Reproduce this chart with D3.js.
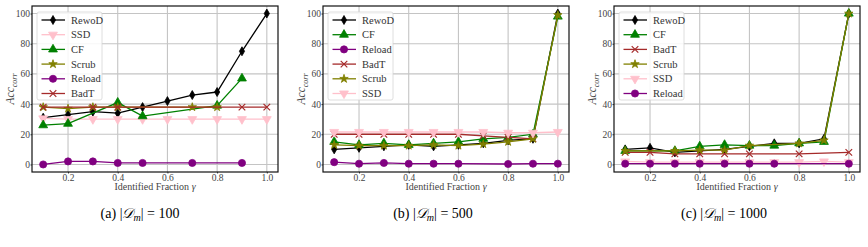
<!DOCTYPE html>
<html>
<head>
<meta charset="utf-8">
<script src="https://cdn.jsdelivr.net/npm/d3@7"></script>
<style>
  body { margin: 0; background: #fff; }
  svg { display: block; }
  svg text { font-family: "Liberation Serif", "DejaVu Serif", serif; }
</style>
</head>
<body>
<div id="chart"></div>
<script>
// identified fraction gamma (x values, shared by all panels)
const gamma = [0.1, 0.2, 0.3, 0.4, 0.5, 0.6, 0.7, 0.8, 0.9, 1.0];
const xTicks = [0.2, 0.4, 0.6, 0.8, 1.0];
const yTicks = [0, 20, 40, 60, 80, 100];

// panel (a) |D_m| = 100   (null = no point)
const aRewoD  = [31, 33, 35, 34, 38, 42, 46, 48, 75, 100];
const aSSD    = [30.5, 30, 30, 30, 30, 30, 30, 30, 30, 30];
const aCF     = [26, 27, null, 41, 32, null, null, 39, 57, null];
const aScrub  = [38, 37, 38, 38, null, null, 38, 38, null, null];
const aReload = [0, 2, 2, 1, 1, null, 1, null, 1, null];
const aBadT   = [38, null, 38, 38, null, null, null, null, 38, 38];

// panel (b) |D_m| = 500
const bRewoD  = [10, 11, 12, 13, 12, 13, 14, 16, 17, 100];
const bCF     = [15, 13, 14, 13, 14, 15, 17, 18, 20, 98];
const bReload = [1.5, 0.5, 1, 0.5, 0.5, 0.5, null, 0.3, 0.5, 0.5];
const bBadT   = [20, 20, 20, 20, 20, 20, 19, 18, 17, null];
const bScrub  = [13, 12.5, 12.5, 12.5, 13, 12.5, 13.5, 15, 17, 99];
const bSSD    = [21.5, 21.5, 21.5, 21.5, 21.5, 21.5, 21.5, 21, 21, 21.5];

// panel (c) |D_m| = 1000
const cRewoD  = [10, 11, 8, 9, 10, 12, 14, 14, 17, 100];
const cCF     = [9, null, 9, 12, 13, 12.5, 12.5, 14, 15, 100];
const cBadT   = [8, 8, 7, 7, 7, 7, null, 7, null, 8];
const cScrub  = [9, null, 9, 9.5, 9.5, 12.5, null, 14, 16, 100];
const cSSD    = [2, 1.5, 1.5, 1.5, 1.5, 1.5, 1.5, 1.5, 2, 1.5];
const cReload = [0.5, 0.5, 0.5, 0.5, 0.5, 0.5, 0.5, null, null, 0.5];

const captions = ["(a)", "(b)", "(c)"];
const sizes = ["100", "500", "1000"];

const SERIF = "'Liberation Serif', 'DejaVu Serif', serif";

// method look
const styles = {
  RewoD:  { color: "#000000", marker: "diamond" },
  SSD:    { color: "#ffc0cb", marker: "tridown" },
  CF:     { color: "#008000", marker: "triup" },
  Scrub:  { color: "#808000", marker: "star" },
  Reload: { color: "#800080", marker: "circle" },
  BadT:   { color: "#a52a2a", marker: "x" }
};

const panels = [
  { left: 32,  series: [["RewoD", aRewoD], ["SSD", aSSD], ["CF", aCF], ["Scrub", aScrub], ["Reload", aReload], ["BadT", aBadT]] },
  { left: 323, series: [["RewoD", bRewoD], ["CF", bCF], ["Reload", bReload], ["BadT", bBadT], ["Scrub", bScrub], ["SSD", bSSD]] },
  { left: 614, series: [["RewoD", cRewoD], ["CF", cCF], ["BadT", cBadT], ["Scrub", cScrub], ["SSD", cSSD], ["Reload", cReload]] }
];

const W = 868, H = 247;
const plotW = 246, plotTop = 6, plotH = 166;

const svg = d3.select("#chart").append("svg")
  .attr("width", W).attr("height", H);

function markerPath(kind) {
  if (kind === "diamond") return "M0,-4.5L2.6,0L0,4.5L-2.6,0Z";
  if (kind === "triup") return d3.symbol(d3.symbolTriangle, 34)();
  if (kind === "tridown") return d3.symbol(d3.symbolTriangle, 34)();
  if (kind === "star") return d3.symbol(d3.symbolStar, 22)();
  if (kind === "circle") return d3.symbol(d3.symbolCircle, 40)();
  if (kind === "x") return "M-3.3,-3.3L3.3,3.3M-3.3,3.3L3.3,-3.3";
}

panels.forEach((p, i) => {
  const g = svg.append("g").attr("transform", `translate(${p.left},${plotTop})`);

  const x = d3.scaleLinear().domain([0.055, 1.045]).range([0, plotW]);
  const y = d3.scaleLinear().domain([-5, 105]).range([plotH, 0]);

  // grid
  g.append("g").selectAll("line").data(xTicks).join("line")
    .attr("x1", d => x(d)).attr("x2", d => x(d))
    .attr("y1", 0).attr("y2", plotH)
    .attr("stroke", "#c4c4c4").attr("stroke-width", 1.1);
  g.append("g").selectAll("line").data(yTicks).join("line")
    .attr("x1", 0).attr("x2", plotW)
    .attr("y1", d => y(d)).attr("y2", d => y(d))
    .attr("stroke", "#c4c4c4").attr("stroke-width", 1.1);

  // axes
  const xAxis = g.append("g").attr("transform", `translate(0,${plotH})`)
    .call(d3.axisBottom(x).tickValues(xTicks).tickFormat(d3.format(".1f")).tickSize(1.5).tickPadding(0.5));
  const yAxis = g.append("g")
    .call(d3.axisLeft(y).tickValues(yTicks).tickSize(1.5).tickPadding(0.5));
  [xAxis, yAxis].forEach(a => {
    a.attr("font-family", SERIF);
    a.select(".domain").remove();
    a.selectAll("line").attr("stroke", "#444");
    a.selectAll("text").attr("fill", "#444").attr("font-family", SERIF).style("font-size", "9.5px");
  });

  // series
  const line = d3.line()
    .x(d => x(d[0])).y(d => y(d[1]));
  p.series.forEach(([name, vals]) => {
    const st = styles[name];
    const kept = gamma.map((gm, k) => [gm, vals[k]]).filter(d => d[1] !== null);
    g.append("path").datum(kept)
      .attr("d", line)
      .attr("fill", "none").attr("stroke", st.color).attr("stroke-width", 1.3);
    g.append("g").selectAll("path").data(kept).join("path")
      .attr("d", markerPath(st.marker))
      .attr("transform", d => `translate(${x(d[0])},${y(d[1])})` + (st.marker === "tridown" ? " rotate(180)" : ""))
      .attr("fill", st.marker === "x" ? "none" : st.color)
      .attr("stroke", st.color)
      .attr("stroke-width", st.marker === "x" ? 1.2 : 0.8);
  });

  // frame
  g.append("rect").attr("width", plotW).attr("height", plotH)
    .attr("fill", "none").attr("stroke", "#111").attr("stroke-width", 1.2);

  // legend
  const lg = g.append("g").attr("transform", "translate(5,6)");
  lg.append("rect").attr("width", 65).attr("height", 88).attr("rx", 2)
    .attr("fill", "#fff").attr("fill-opacity", 0.85)
    .attr("stroke", "#d6d6d6").attr("stroke-width", 0.8);
  p.series.forEach(([name], k) => {
    const st = styles[name];
    const ly = 8 + k * 14.7;
    lg.append("line").attr("x1", 4.5).attr("x2", 28).attr("y1", ly).attr("y2", ly)
      .attr("stroke", st.color).attr("stroke-width", 1.3);
    lg.append("path").attr("d", markerPath(st.marker))
      .attr("transform", `translate(16,${ly})` + (st.marker === "tridown" ? " rotate(180)" : ""))
      .attr("fill", st.marker === "x" ? "none" : st.color)
      .attr("stroke", st.color).attr("stroke-width", st.marker === "x" ? 1.2 : 0.8);
    lg.append("text").attr("x", 34).attr("y", ly).attr("dy", "0.35em")
      .attr("font-family", SERIF).attr("fill", "#333").style("font-size", "10.5px").text(name);
  });

  // axis labels
  g.append("text").attr("x", plotW / 2).attr("y", plotH + 18)
    .attr("text-anchor", "middle").attr("fill", "#444").attr("font-family", SERIF).style("font-size", "10px")
    .text("Identified Fraction ").append("tspan").style("font-style", "italic").text("γ");

  const yl = g.append("text").attr("transform", `translate(-18,${plotH / 2}) rotate(-90)`)
    .attr("text-anchor", "middle").attr("fill", "#444").attr("font-family", SERIF).style("font-size", "11.5px");
  yl.append("tspan").style("font-style", "italic").text("Acc");
  yl.append("tspan").style("font-style", "italic").style("font-size", "8px")
    .attr("dy", 2.5).text("corr");

  // caption
  const cap = svg.append("text").attr("x", p.left + [108, 110, 110][i]).attr("y", 218)
    .attr("text-anchor", "middle").attr("fill", "#000").attr("font-family", SERIF).style("font-size", "14px");
  cap.append("tspan").text(captions[i] + " |");
  cap.append("tspan").style("font-style", "italic").text("𝒟");
  cap.append("tspan").style("font-style", "italic").style("font-size", "10px").attr("dy", 2.5).text("m");
  cap.append("tspan").attr("dy", -2.5).text("| = " + sizes[i]);
});
</script>
</body>
</html>
